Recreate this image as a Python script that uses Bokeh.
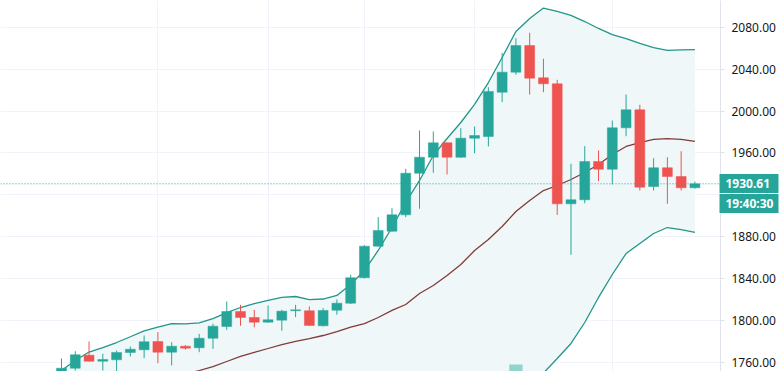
from bokeh.plotting import figure
from bokeh.models import (Range1d, FixedTicker, PrintfTickFormatter, Span, ColumnDataSource,
                          LinearAxis, CustomJSTickFormatter)
from bokeh.embed import file_html
from bokeh.resources import INLINE

# ---------------- data ----------------
opens = [1747.0, 1754.7, 1767.1, 1761.4, 1762.7, 1769.7, 1772.3, 1780.2, 1770.0, 1775.7,
         1774.2, 1783.3, 1794.5, 1808.8, 1803.1, 1798.6, 1800.5, 1809.5, 1809.5, 1795.2,
         1810.0, 1816.7, 1841.0, 1871.1, 1885.4, 1901.0, 1940.7, 1956.0, 1969.7, 1956.0,
         1974.1, 1975.7, 2018.0, 2037.1, 2062.5, 2031.7, 2026.0, 1911.5, 1915.4, 1951.9,
         1944.5, 1984.0, 2001.2, 1928.0, 1945.9, 1937.6, 1926.8]
highs = [1764.0, 1770.9, 1780.2, 1768.5, 1771.6, 1775.4, 1785.9, 1789.1, 1779.5, 1776.8,
         1787.5, 1797.1, 1818.3, 1815.2, 1810.4, 1814.5, 1810.4, 1815.2, 1813.6, 1812.0,
         1820.3, 1843.8, 1872.0, 1898.8, 1907.3, 1944.9, 1981.5, 1980.5, 1970.0, 1983.7,
         1985.3, 2022.8, 2055.6, 2069.5, 2074.7, 2049.9, 2029.8, 1949.7, 1966.5, 1962.4,
         1991.0, 2015.8, 2006.0, 1955.0, 1956.0, 1961.7, 1932.8]
lows = [1744.0, 1752.5, 1761.0, 1752.5, 1748.0, 1765.9, 1764.3, 1759.5, 1757.3, 1772.5,
        1770.0, 1773.2, 1791.3, 1795.2, 1793.8, 1798.0, 1790.4, 1803.4, 1795.0, 1794.5,
        1805.7, 1816.0, 1840.3, 1870.8, 1885.0, 1898.8, 1906.8, 1941.1, 1939.5, 1955.4,
        1959.8, 1966.2, 2008.5, 2034.6, 2015.8, 2018.0, 1901.0, 1862.9, 1912.1, 1933.1,
        1930.0, 1976.0, 1924.2, 1924.2, 1911.5, 1924.2, 1926.0]
closes = [1754.7, 1767.5, 1761.4, 1763.0, 1769.7, 1772.8, 1779.9, 1770.0, 1775.7, 1773.8,
          1783.3, 1794.8, 1808.8, 1803.1, 1798.6, 1800.9, 1809.1, 1810.4, 1795.5, 1809.8,
          1816.7, 1841.0, 1871.1, 1886.1, 1901.0, 1940.7, 1956.0, 1969.7, 1956.0, 1974.1,
          1976.7, 2018.7, 2037.1, 2062.5, 2031.4, 2026.0, 1911.5, 1915.4, 1951.9, 1944.5,
          1984.0, 2001.2, 1927.4, 1945.9, 1937.6, 1926.8, 1930.61]
volumes = [32000, 35000, 28000, 22000, 26000, 20000, 30000, 38000, 25000, 18000,
           27000, 33000, 40000, 30000, 26000, 24000, 31000, 21000, 39000, 36000,
           28000, 45000, 52000, 41000, 37000, 55000, 50000, 38000, 34000, 36000,
           29000, 53000, 58000, 74000, 57000, 42000, 59000, 47000, 44000, 33000,
           46000, 40000, 56000, 35000, 30000, 32000, 9000]
bb_upper = [1752.5, 1762.0, 1770.1, 1774.4, 1779.2, 1784.7, 1790.3, 1793.8, 1797.2, 1797.0,
            1798.0, 1802.0, 1807.8, 1812.6, 1816.4, 1819.3, 1822.2, 1823.1, 1820.2, 1820.7,
            1824.1, 1834.6, 1847.9, 1867.0, 1888.9, 1912.8, 1933.8, 1957.6, 1973.8, 1989.1,
            2006.3, 2027.2, 2051.1, 2075.9, 2088.3, 2098.3, 2095.0, 2091.2, 2085.4, 2078.8,
            2073.0, 2069.2, 2064.5, 2060.6, 2057.8, 2058.3, 2058.7]
bb_middle = [1717.5, 1721.0, 1724.5, 1728.0, 1731.5, 1735.0, 1738.5, 1742.0, 1745.5, 1749.0,
             1752.5, 1756.3, 1761.1, 1765.9, 1769.7, 1773.5, 1777.3, 1780.2, 1783.0, 1785.9,
             1789.7, 1794.0, 1797.3, 1803.1, 1809.8, 1815.5, 1826.0, 1833.6, 1843.2, 1853.6,
             1867.0, 1877.5, 1889.9, 1904.2, 1914.7, 1924.2, 1929.0, 1934.7, 1941.4, 1949.0,
             1958.6, 1966.2, 1970.0, 1972.9, 1973.8, 1972.9, 1971.0]
bb_lower = [1682.5, 1679.9, 1684.1, 1686.3, 1684.7, 1686.0, 1687.7, 1691.4, 1695.5, 1701.6,
            1708.1, 1711.4, 1714.4, 1719.2, 1723.0, 1727.7, 1732.4, 1737.3, 1745.0, 1747.0,
            1748.0, 1749.0, 1746.7, 1739.2, 1730.7, 1718.2, 1718.2, 1709.6, 1712.6, 1718.1,
            1727.7, 1727.8, 1728.7, 1732.5, 1741.1, 1750.0, 1764.0, 1778.3, 1798.3, 1822.2,
            1844.1, 1864.1, 1873.7, 1883.2, 1888.9, 1887.0, 1884.2]
price_ticks = [1760, 1800, 1840, 1880, 1960, 2000, 2040, 2080]
grid_prices = [1760, 1800, 1840, 1880, 1920, 1960, 2000, 2040, 2080]
time_grid = [7, 15, 22, 30, 40]
last_price = 1930.61
countdown = "19:40:30"

# ---------------- styling ----------------
UP = "#26a69a"
DOWN = "#ef5350"
FONT = "Noto Sans"
W, H = 779, 371
SCALE_W = 59

idx = list(range(len(opens)))
colors = [UP if c >= o else DOWN for o, c in zip(opens, closes)]
src = ColumnDataSource(dict(
    x=idx, high=highs, low=lows,
    top=[max(o, c) for o, c in zip(opens, closes)],
    bottom=[min(o, c) for o, c in zip(opens, closes)],
    color=colors,
))

p = figure(width=W, height=H,
           x_range=Range1d(-4.430, 47.858), y_range=Range1d(1751.56, 2105.47),
           output_backend="svg", toolbar_location=None,
           x_axis_location=None, y_axis_location="right",
           min_border_left=0, min_border_top=0, min_border_bottom=0, min_border_right=SCALE_W)
p.outline_line_color = None
p.background_fill_color = "white"
p.border_fill_color = "white"

p.xgrid.ticker = FixedTicker(ticks=time_grid)
p.ygrid.ticker = FixedTicker(ticks=grid_prices)
p.grid.grid_line_color = "#f0f3fa"
p.grid.grid_line_width = 1

ax = p.yaxis[0]
ax.ticker = FixedTicker(ticks=price_ticks)
ax.formatter = PrintfTickFormatter(format="%.2f")
ax.axis_line_color = "#e0e3eb"
ax.major_tick_line_color = "#e0e3eb"
ax.major_tick_out = 4
ax.major_tick_in = 0
ax.minor_tick_line_color = None
ax.major_label_standoff = 7
ax.major_label_text_font = FONT
ax.major_label_text_font_size = "12px"
ax.major_label_text_color = "#131722"

# Bollinger band background and lines
p.varea(x=idx, y1=bb_lower, y2=bb_upper, fill_color="#f0f7f8")

# volume overlay (only the tallest bar rises into view)
p.extra_y_ranges = {"vol": Range1d(60000, 802000)}
p.vbar(x=idx, top=volumes, bottom=0, width=0.97, y_range_name="vol",
       fill_color="#92d3cb", line_color=None)

p.line(idx, bb_upper, line_color="#21968a", line_width=1.3)
p.line(idx, bb_lower, line_color="#21968a", line_width=1.3)
p.line(idx, bb_middle, line_color="#833a3a", line_width=1.3)

# candles
p.segment(x0="x", y0="low", x1="x", y1="high", line_color="color", line_width=1, source=src)
p.vbar(x="x", width=0.72, top="top", bottom="bottom", fill_color="color",
       line_color="color", line_width=0.5, source=src)

# last price line
p.add_layout(Span(location=last_price, dimension="width", line_color=UP,
                  line_dash="1 2", line_width=1))

# Last-price and countdown tags: one extra right axis stacked after the price
# scale (at the canvas edge). Its thick ticks reach back inward to the frame edge
# and form the teal boxes; a negative standoff brings the labels over them.
units_per_px = (p.y_range.end - p.y_range.start) / H
countdown_level = last_price - 20 * units_per_px
tag_axis = LinearAxis(ticker=FixedTicker(ticks=[last_price, countdown_level]),
                      formatter=CustomJSTickFormatter(
                          args=dict(price=last_price, price_text=f"{last_price:.2f}",
                                    countdown_text=countdown),
                          code="return Math.abs(tick - price) < 1e-6 ? price_text : countdown_text;"),
                      axis_line_color=None, minor_tick_line_color=None,
                      major_tick_line_color=UP, major_tick_line_width=19,
                      major_tick_in=SCALE_W, major_tick_out=0,
                      major_label_standoff=-53,
                      major_label_text_color="white", major_label_text_font=FONT,
                      major_label_text_font_size="12px", major_label_text_font_style="bold")
p.add_layout(tag_axis, "right")

open("out.html", "w").write(file_html(p, INLINE))
